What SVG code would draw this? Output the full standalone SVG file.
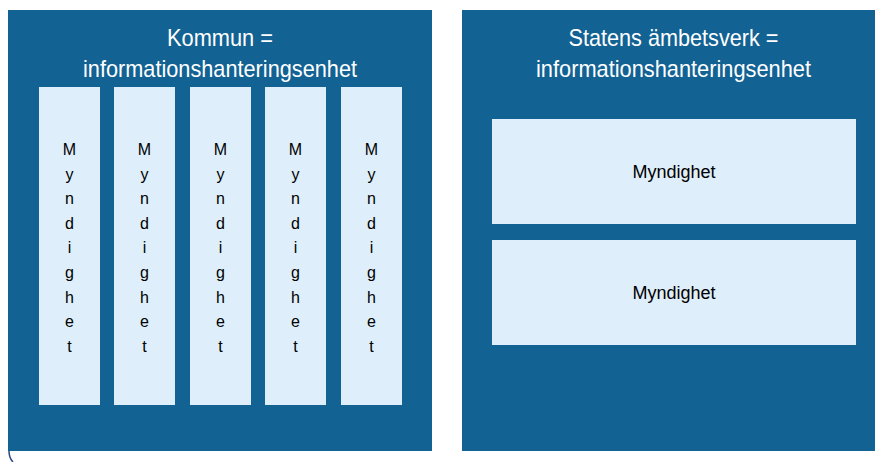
<svg xmlns="http://www.w3.org/2000/svg" width="875" height="462" viewBox="0 0 875 462">
<style>
.panel{fill:#126293}
.inner{fill:#DEEFFB}
.title{font-family:"Liberation Sans",Arial,sans-serif;font-size:24px;fill:#ffffff;text-anchor:middle}
.lbl{font-family:"Liberation Sans",Arial,sans-serif;font-size:18px;fill:#000000;text-anchor:middle}
.vl{font-family:"Liberation Sans",Arial,sans-serif;font-size:16px;fill:#000000;text-anchor:middle}
</style>
<rect width="875" height="462" fill="#ffffff"/>
<g id="kommun">
<rect class="panel" x="8" y="10" width="424" height="441"/>
<text class="title" x="220" y="46" textLength="106" lengthAdjust="spacingAndGlyphs">Kommun =</text>
<text class="title" x="220" y="77" textLength="274" lengthAdjust="spacingAndGlyphs">informationshanteringsenhet</text>
</g>
<g id="myndighet-k1">
<rect class="inner" x="39" y="87" width="61" height="318"/>
<text class="vl"><tspan x="69.5" y="155">M</tspan><tspan x="69.5" y="179.6">y</tspan><tspan x="69.5" y="204.2">n</tspan><tspan x="69.5" y="228.8">d</tspan><tspan x="69.5" y="253.4">i</tspan><tspan x="69.5" y="278">g</tspan><tspan x="69.5" y="302.6">h</tspan><tspan x="69.5" y="327.2">e</tspan><tspan x="69.5" y="351.8">t</tspan></text>
</g>
<g id="myndighet-k2">
<rect class="inner" x="114" y="87" width="61" height="318"/>
<text class="vl"><tspan x="144.5" y="155">M</tspan><tspan x="144.5" y="179.6">y</tspan><tspan x="144.5" y="204.2">n</tspan><tspan x="144.5" y="228.8">d</tspan><tspan x="144.5" y="253.4">i</tspan><tspan x="144.5" y="278">g</tspan><tspan x="144.5" y="302.6">h</tspan><tspan x="144.5" y="327.2">e</tspan><tspan x="144.5" y="351.8">t</tspan></text>
</g>
<g id="myndighet-k3">
<rect class="inner" x="190" y="87" width="61" height="318"/>
<text class="vl"><tspan x="220.5" y="155">M</tspan><tspan x="220.5" y="179.6">y</tspan><tspan x="220.5" y="204.2">n</tspan><tspan x="220.5" y="228.8">d</tspan><tspan x="220.5" y="253.4">i</tspan><tspan x="220.5" y="278">g</tspan><tspan x="220.5" y="302.6">h</tspan><tspan x="220.5" y="327.2">e</tspan><tspan x="220.5" y="351.8">t</tspan></text>
</g>
<g id="myndighet-k4">
<rect class="inner" x="265" y="87" width="61" height="318"/>
<text class="vl"><tspan x="295.5" y="155">M</tspan><tspan x="295.5" y="179.6">y</tspan><tspan x="295.5" y="204.2">n</tspan><tspan x="295.5" y="228.8">d</tspan><tspan x="295.5" y="253.4">i</tspan><tspan x="295.5" y="278">g</tspan><tspan x="295.5" y="302.6">h</tspan><tspan x="295.5" y="327.2">e</tspan><tspan x="295.5" y="351.8">t</tspan></text>
</g>
<g id="myndighet-k5">
<rect class="inner" x="341" y="87" width="61" height="318"/>
<text class="vl"><tspan x="371.5" y="155">M</tspan><tspan x="371.5" y="179.6">y</tspan><tspan x="371.5" y="204.2">n</tspan><tspan x="371.5" y="228.8">d</tspan><tspan x="371.5" y="253.4">i</tspan><tspan x="371.5" y="278">g</tspan><tspan x="371.5" y="302.6">h</tspan><tspan x="371.5" y="327.2">e</tspan><tspan x="371.5" y="351.8">t</tspan></text>
</g>
<g id="statens">
<rect class="panel" x="462" y="10" width="413" height="441"/>
<text class="title" x="673.5" y="46" textLength="210" lengthAdjust="spacingAndGlyphs">Statens ämbetsverk =</text>
<text class="title" x="673.5" y="77" textLength="275" lengthAdjust="spacingAndGlyphs">informationshanteringsenhet</text>
</g>
<g id="myndighet-s1">
<rect class="inner" x="492" y="119" width="364" height="105"/>
<text class="lbl" x="674" y="178">Myndighet</text>
</g>
<g id="myndighet-s2">
<rect class="inner" x="492" y="240" width="364" height="105"/>
<text class="lbl" x="674" y="299">Myndighet</text>
</g>
<g id="connectors">
<path d="M9,451 Q9,458 13,462" fill="none" stroke="#2E4A86" stroke-width="1.5"/>
</g>
</svg>
